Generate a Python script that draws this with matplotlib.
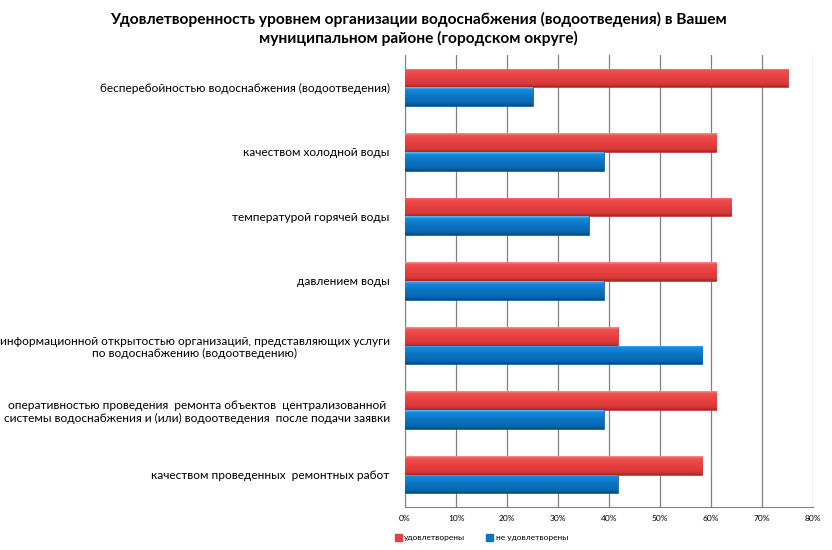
import numpy as np
import matplotlib.pyplot as plt
from matplotlib.colors import LinearSegmentedColormap
from matplotlib.ticker import PercentFormatter

# Categories (top to bottom) and shares, %
categories = [
    'бесперебойностью водоснабжения (водоотведения)',
    'качеством холодной воды',
    'температурой горячей воды',
    'давлением воды',
    'информационной открытостью организаций, представляющих услуги\nпо водоснабжению (водоотведению)',
    'оперативностью проведения  ремонта объектов  централизованной\nсистемы водоснабжения и (или) водоотведения  после подачи заявки',
    'качеством проведенных  ремонтных работ',
]
satisfied = [75, 61, 64, 61, 41.7, 61, 58.3]
not_satisfied = [25, 39, 36, 39, 58.3, 39, 41.7]
series_names = ['удовлетворены', 'не удовлетворены']
x_ticks = [0, 10, 20, 30, 40, 50, 60, 70, 80]

plt.rcParams['font.family'] = ['Lato', 'DejaVu Sans']

fig = plt.figure(figsize=(8.32, 5.5), dpi=100)
ax = fig.add_axes([0.4868, 0.0782, 0.4904, 0.8218])

y = np.arange(len(categories))
h = 0.29

# gradient stops top -> bottom (bevelled Excel look)
red_cm = LinearSegmentedColormap.from_list(
    'r', [(0, '#F99090'), (0.12, '#F05050'), (0.5, '#E84040'), (0.85, '#D63838'), (1, '#A82828')])
blue_cm = LinearSegmentedColormap.from_list(
    'b', [(0, '#5CC0FA'), (0.12, '#1888D8'), (0.5, '#0B74C4'), (0.85, '#0A66AE'), (1, '#084C80')])
grad = np.linspace(0, 1, 64).reshape(-1, 1)

def draw(vals, offs, cm, edge, label):
    bars = ax.barh(y + offs, vals, height=h, color=cm(0.5), label=label, zorder=3,
                   edgecolor=edge, linewidth=0.5)
    for b in bars:
        x0, yc = b.get_x(), b.get_y()
        im = ax.imshow(grad, cmap=cm, aspect='auto', origin='upper', zorder=3.5,
                       extent=[x0, x0 + b.get_width(), yc + b.get_height(), yc],
                       interpolation='bilinear')
        im.set_clip_path(b)
    return bars

draw(satisfied, -h / 2, red_cm, '#B83030', series_names[0])
draw(not_satisfied, h / 2, blue_cm, '#0A5590', series_names[1])

ax.set_ylim(len(categories) - 0.5, -0.5)
ax.set_xlim(0, 80)
ax.set_aspect('auto')
ax.set_xticks(x_ticks)
ax.xaxis.set_major_formatter(PercentFormatter(decimals=0))
ax.set_yticks(y)
ax.set_yticklabels(categories, fontsize=8.6, multialignment='center')
ax.tick_params(axis='y', length=0, pad=11)
ax.tick_params(axis='x', length=0, pad=6, labelsize=6)

ax.grid(axis='x', color='#808080', linewidth=0.9, zorder=0)
for s in ['top', 'right']:
    ax.spines[s].set_visible(False)
ax.spines['left'].set_color('#808080')
ax.spines['bottom'].set_color('#808080')

fig.text(0.503, 0.978, 'Удовлетворенность уровнем организации водоснабжения (водоотведения) в Вашем\n'
         'муниципальном районе (городском округе)',
         ha='center', va='top', fontsize=11.2, fontweight='bold', linespacing=1.3)

handles = [plt.Rectangle((0, 0), 1, 1, color='#E84040'),
           plt.Rectangle((0, 0), 1, 1, color='#0B74C4')]
fig.legend(handles, series_names, loc='center left', bbox_to_anchor=(0.466, 0.022),
           ncol=2, frameon=False, fontsize=6, handlelength=0.8, handleheight=0.8,
           handletextpad=0.3, columnspacing=2.5)

fig.savefig('out.png', dpi=100)
